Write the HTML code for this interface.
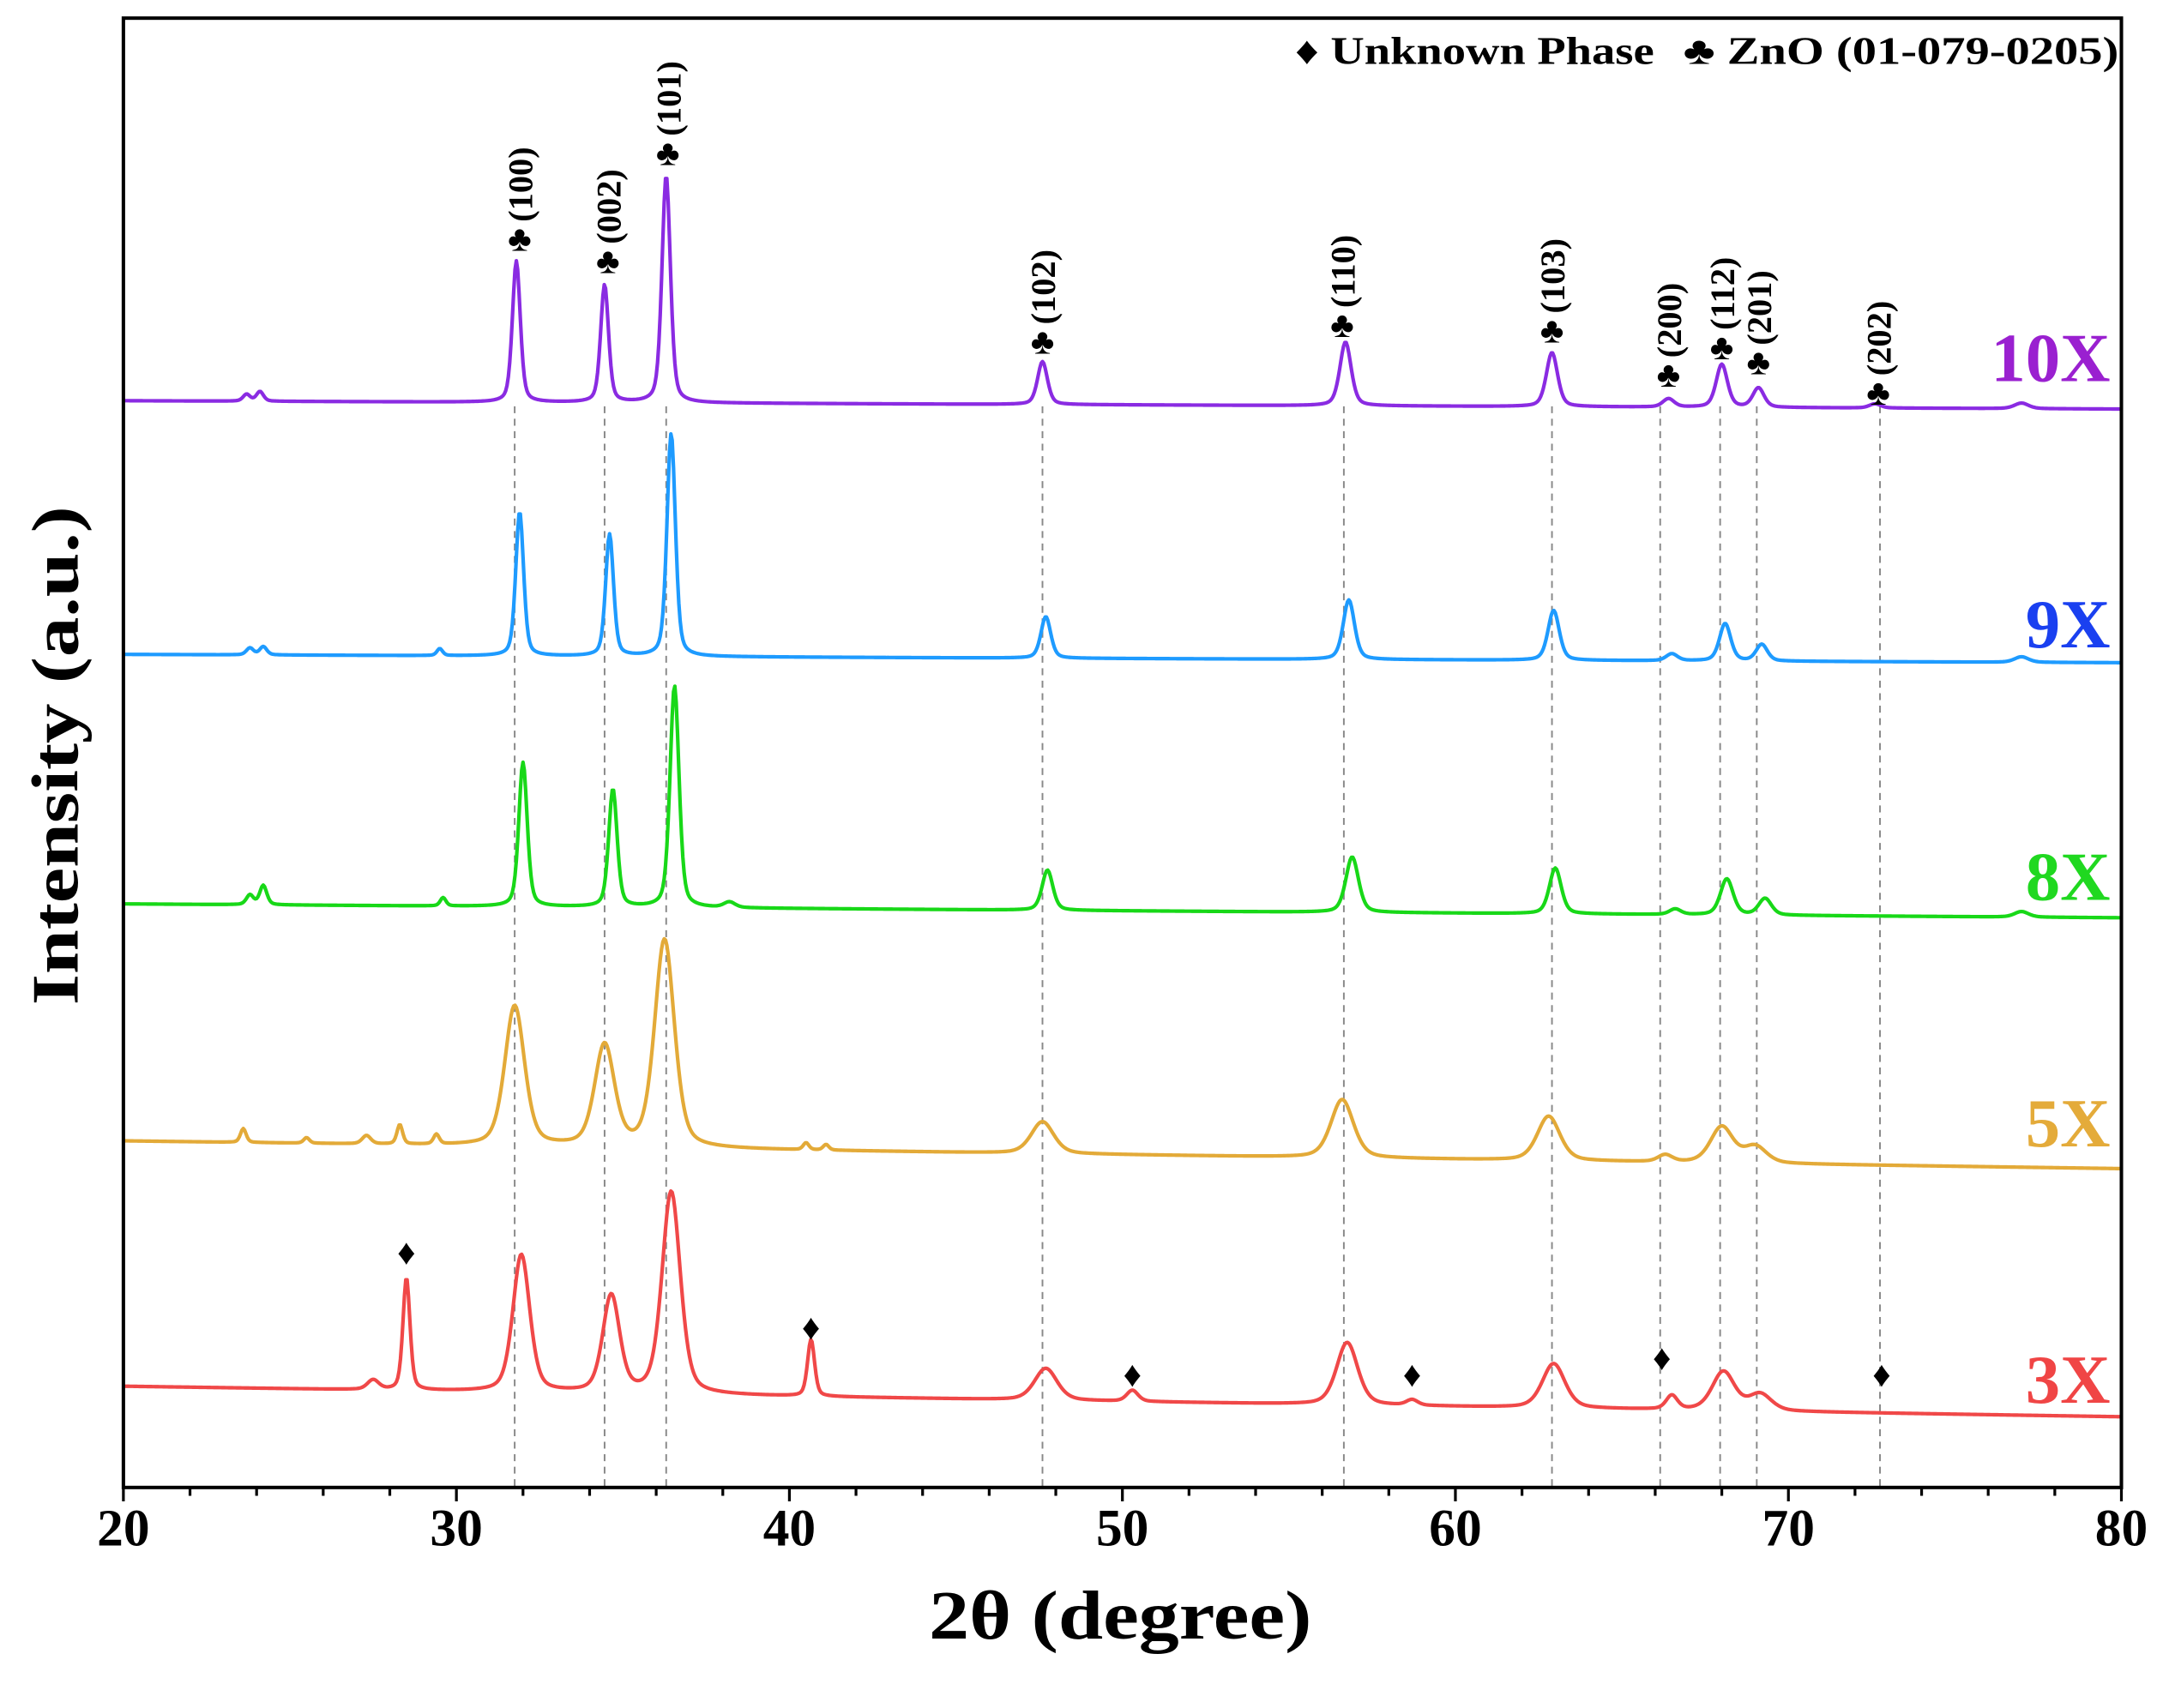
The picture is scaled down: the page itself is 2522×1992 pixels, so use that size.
<!DOCTYPE html>
<html><head><meta charset="utf-8"><style>
html,body{margin:0;padding:0;background:#fff}
svg{display:block}
text{font-family:"Liberation Serif","DejaVu Serif",serif;font-weight:bold}
</style></head><body>
<svg id="chart" width="2522" height="1992" viewBox="0 0 1560 1232" xmlns="http://www.w3.org/2000/svg">
<rect x="0" y="0" width="1560" height="1232" fill="#fff"/>
<g id="dash"></g>
<g id="series"></g>
<g id="annot"></g>
<rect x="89" y="13" width="1441" height="1060" fill="none" stroke="#000" stroke-width="2.5"/>
<g id="xaxis"></g>
<text x="670" y="1182" font-size="50" textLength="276" lengthAdjust="spacingAndGlyphs">2θ (degree)</text>
<text transform="translate(56,725) rotate(-90)" font-size="48" textLength="360" lengthAdjust="spacingAndGlyphs">Intensity (a.u.)</text>
<text x="934" y="46" font-size="28" textLength="259" lengthAdjust="spacingAndGlyphs">♦ Unknown Phase</text>
<text x="1214" y="46" font-size="28" textLength="314" lengthAdjust="spacingAndGlyphs">♣ ZnO (01-079-0205)</text>
</svg>
<script>
const names=['10X','9X','8X','5X','3X'];
const colors=['#8a2be2','#1e9bff','#18d818','#e3aa38','#f04848'];
const labelColors=['#9a20d0','#1a40f0','#20d820','#e4ab3a','#f04545'];
const baseStart=[784,601,421,250,73];
const baseEnd=[778,595,411,230,51];
const peakPos=[
[23.7,24.1,31.8,34.45,36.3,47.6,56.7,62.9,66.4,68.0,69.1,72.6,77.0],
[23.8,24.2,29.5,31.9,34.6,36.45,47.7,56.8,62.95,66.5,68.1,69.2,77.0],
[23.8,24.2,29.6,32.0,34.7,36.55,38.2,47.75,56.9,63.0,66.6,68.15,69.3,77.0],
[23.6,25.5,27.3,28.3,29.4,31.75,34.45,36.25,40.5,41.1,47.6,56.6,62.8,66.3,68.0,69.0],
[27.5,28.5,31.95,34.65,36.45,40.65,47.7,50.3,56.75,58.7,62.95,66.5,68.05,69.15]];
const peakH=[
[5,7,102,85,164,31,46,39,6,31,14,3,4],
[5,6,5,104,88,161,30,43,36,5,27,12,4],
[7,14,6,104,85,160,4,29,40,33,4,26,12,4],
[10,4,6,14,7,101,73,150,5,4,23,42,32,5,26,12],
[7,81,99,70,146,41,23,8,45,4,32,10,28,12]];
const peakW=[
[0.25,0.25,0.28,0.28,0.3,0.35,0.4,0.4,0.4,0.4,0.4,0.4,0.5],
[0.25,0.25,0.2,0.28,0.28,0.3,0.35,0.4,0.4,0.4,0.4,0.4,0.5],
[0.25,0.25,0.2,0.3,0.3,0.32,0.4,0.38,0.45,0.42,0.4,0.45,0.45,0.5],
[0.2,0.2,0.3,0.2,0.2,0.7,0.7,0.7,0.2,0.2,0.8,0.8,0.8,0.5,0.8,0.8],
[0.4,0.25,0.6,0.6,0.65,0.25,0.8,0.4,0.75,0.4,0.8,0.4,0.8,0.8]];
const labelY=[258,450,632,810,995];
const xTicks=[20,30,40,50,60,70,80];
const refLines=[31.75,34.45,36.3,47.6,56.65,62.9,66.15,67.95,69.05,72.75];
const hkl=['(100)','(002)','(101)','(102)','(110)','(103)','(200)','(112)','(201)','(202)'];
const clubX=[31.9,34.55,36.35,47.6,56.6,62.9,66.4,68.0,69.1,72.7];
const clubY=[172,188,110,246,234,238,270,250,261,283];
const diamondX=[28.5,40.65,50.3,58.7,66.2,72.8];
const diamondY=[903,957,991,991,979,991];

const NS='http://www.w3.org/2000/svg';
const X=v=>89+(v-20)*(1441/60);
const Y=v=>1073-v;
function mk(tag,attrs,parent){const e=document.createElementNS(NS,tag);for(const k in attrs)e.setAttribute(k,attrs[k]);parent.appendChild(e);return e;}
const gs=document.getElementById('series'),ga=document.getElementById('annot'),gd=document.getElementById('dash'),gx=document.getElementById('xaxis');

refLines.forEach((p,i)=>{
 const l=mk('line',{x1:X(p),x2:X(p),y1:293,y2:1073,stroke:'#888','stroke-width':1.2,'stroke-dasharray':'5,4'},gd);
 
 
});

names.forEach((n,s)=>{
 let d='';
 for(let t=20;t<=80.0001;t+=0.04){
  let v=baseStart[s]+(baseEnd[s]-baseStart[s])*(t-20)/60;
  peakPos[s].forEach((p,k)=>{const w=peakW[s][k]/2;const dx=(t-p)/w;
   v+=peakH[s][k]*(0.6*Math.exp(-0.693*dx*dx)+0.4/(1+dx*dx));});
  d+=(d?'L':'M')+X(t).toFixed(2)+','+Y(v).toFixed(2);
 }
 const p=mk('path',{d:d,fill:'none',stroke:colors[s],'stroke-width':2.6,'stroke-linejoin':'round'},gs);
 
 
 const t=mk('text',{x:1522,y:labelY[s]+17,'font-size':50,'text-anchor':'end',fill:labelColors[s]},gs);
 t.textContent=n;
 
 
});

hkl.forEach((h,i)=>{
 const cx=X(clubX[i]);
 const c=mk('text',{x:cx,y:clubY[i]+9,'font-size':26,'text-anchor':'middle'},ga);
 c.textContent='♣';
 
 
 const t=mk('text',{transform:`translate(${cx+9},${clubY[i]-12}) rotate(-90)`,'font-size':25},ga);
 t.textContent=h;
 
 
});
diamondX.forEach((p,i)=>{
 const t=mk('text',{x:X(p),y:diamondY[i]+9,'font-size':26,'text-anchor':'middle'},ga);
 t.textContent='♦';
 
 
});

for(let v=20;v<=80;v+=2){
 const major=v%10===0;
 const l=mk('line',{x1:X(v),x2:X(v),y1:1073,y2:1073+(major?10:6),stroke:'#000','stroke-width':2},gx);
 
 
}
xTicks.forEach(v=>{
 const t=mk('text',{x:X(v),y:1115,'font-size':38,'text-anchor':'middle'},gx);
 t.textContent=v;
 
 
});
</script>
</body></html>
